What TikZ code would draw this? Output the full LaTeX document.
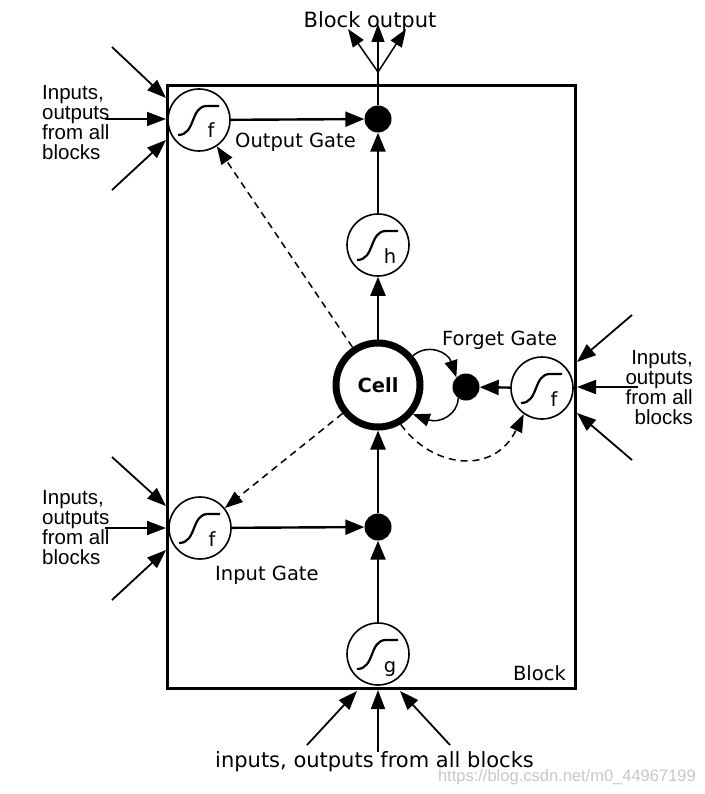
\documentclass[tikz,border=0pt]{standalone}
\usepackage{fontspec}
\setmainfont{DejaVu Sans}
\newfontfamily\arialf{Liberation Sans}
\usetikzlibrary{arrows.meta}
\tikzset{
  gate/.style={circle, draw, line width=1.6pt, minimum size=62pt, inner sep=0pt},
  dotn/.style={circle, fill, minimum size=27pt, inner sep=0pt},
  cellc/.style={circle, draw, line width=7pt, minimum size=84pt, inner sep=0pt, font=\fontsize{19.5}{19.5}\selectfont\bfseries},
  arr/.style={line width=2.4pt, -{Triangle[length=19pt,width=15pt]}},
  inarr/.style={line width=1.8pt, -{Triangle[length=19pt,width=14pt]}},
  outarr/.style={line width=1.5pt, -{Triangle[length=18pt,width=13pt]}},
  dasharr/.style={line width=1.5pt, dash pattern=on 7pt off 5pt, -{Triangle[length=18pt,width=13pt]}},
  looparr/.style={line width=1.5pt, -{Triangle[length=17pt,width=13pt]}},
  lbl/.style={inner sep=0pt, font=\fontsize{19.5}{19.5}\selectfont},
  side/.style={inner sep=0pt, font=\arialf\fontsize{20.5}{20}\selectfont},
  sigm/.style={line width=2.2pt},
}
\newcommand{\sigglyph}[2]{%
  \draw[sigm, shift={(#1.center)}] (-21,15) .. controls (-3,15) and (-9,-14) .. (8,-14) -- (20,-14);
  \node[lbl, anchor=base] at ([shift={(12,18)}]#1.center) {#2};}
\begin{document}
\begin{tikzpicture}[x=1pt,y=-1pt]
\useasboundingbox (0,0) rectangle (704,794);
% block
\draw[line width=3pt] (167,86) rectangle (575,688);
\node[lbl, anchor=base east] (blk) at (566,680) {Block};
% gates
\node[gate] (og) at (199,120) {};
\node[gate] (hg) at (378,245) {};
\node[gate] (fg) at (542,388) {};
\node[gate] (ig) at (200,528) {};
\node[gate] (gg) at (378,654) {};
\sigglyph{og}{f}
\sigglyph{hg}{h}
\sigglyph{fg}{f}
\sigglyph{ig}{f}
\sigglyph{gg}{g}
\node[cellc] (cell) at (378,385) {Cell};
\node[dotn] (odot) at (378,119) {};
\node[dotn] (fdot) at (466,387) {};
\node[dotn] (idot) at (378,527) {};
% labels
\node[lbl, anchor=base west] (ogl) at (235,148) {Output Gate};
\node[lbl, anchor=base west] (fgl) at (442,345) {Forget Gate};
\node[lbl, anchor=base west] (igl) at (215,580) {Input Gate};
% main flow
\draw[arr] (og) -- (odot);
\draw[arr] (hg) -- (odot);
\draw[arr] (cell) -- (hg);
\draw[arr] (idot) -- (cell);
\draw[arr] (gg) -- (idot);
\draw[arr] (ig) -- (idot);
\draw[arr] (fg) -- (fdot);
% self loop
\draw[looparr] (cell.40) .. controls (428,343) and (448,352) .. (fdot.135);
\draw[looparr] (fdot.235) .. controls (458,414) and (440,424) .. (cell.-40);
% peepholes
\draw[dasharr] (cell) -- (og);
\draw[dasharr] (cell) -- (ig);
\draw[dasharr] (cell.-60) .. controls (432,468) and (494,476) .. (fg.-125);
% block output
\coordinate (bo) at (378,72);
\coordinate (bo1) at (348,29);
\coordinate (bo2) at (378,24);
\coordinate (bo3) at (406,29);
\draw[line width=1.5pt] (odot) -- (bo);
\draw[outarr] (bo) -- (bo1);
\draw[outarr] (bo) -- (bo2);
\draw[outarr] (bo) -- (bo3);
\node[lbl, font=\fontsize{21}{21}\selectfont, anchor=base] (bot) at (370,28) {Block output};
% output gate inputs
\coordinate (a1) at (112,47);  \coordinate (a1t) at (166,98);
\coordinate (a2) at (105,119); \coordinate (a2t) at (166,119);
\coordinate (a3) at (112,190); \coordinate (a3t) at (166,140);
\draw[inarr] (a1) -- (a1t);
\draw[inarr] (a2) -- (a2t);
\draw[inarr] (a3) -- (a3t);
\node[side, anchor=north west, align=left] (t1) at (42,85) {Inputs,\\outputs\\from all\\blocks};
% input gate inputs
\coordinate (b1) at (112,457); \coordinate (b1t) at (166,506);
\coordinate (b2) at (105,528); \coordinate (b2t) at (166,528);
\coordinate (b3) at (112,600); \coordinate (b3t) at (166,550);
\draw[inarr] (b1) -- (b1t);
\draw[inarr] (b2) -- (b2t);
\draw[inarr] (b3) -- (b3t);
\node[side, anchor=north west, align=left] (t2) at (42,490) {Inputs,\\outputs\\from all\\blocks};
% forget gate inputs
\coordinate (c1) at (632,315); \coordinate (c1t) at (577,362);
\coordinate (c2) at (638,387); \coordinate (c2t) at (577,387);
\coordinate (c3) at (632,460); \coordinate (c3t) at (577,413);
\draw[inarr] (c1) -- (c1t);
\draw[inarr] (c2) -- (c2t);
\draw[inarr] (c3) -- (c3t);
\node[side, anchor=north east, align=right] (t3) at (693,350) {Inputs,\\outputs\\from all\\blocks};
% cell input inputs
\coordinate (d1) at (307,745); \coordinate (d1t) at (357,691);
\coordinate (d2) at (378,752); \coordinate (d2t) at (378,690);
\coordinate (d3) at (450,745); \coordinate (d3t) at (400,691);
\draw[inarr] (d1) -- (d1t);
\draw[inarr] (d2) -- (d2t);
\draw[inarr] (d3) -- (d3t);
\node[lbl, font=\fontsize{21}{21}\selectfont, anchor=base west] (t4) at (215,767) {inputs, outputs from all blocks};
% watermark
\node[inner sep=0pt, anchor=base east, text=black!22, font=\arialf\fontsize{16.5}{16.5}\selectfont] (wm) at (696,781) {https://blog.csdn.net/m0\_44967199};
\end{tikzpicture}
\end{document}
